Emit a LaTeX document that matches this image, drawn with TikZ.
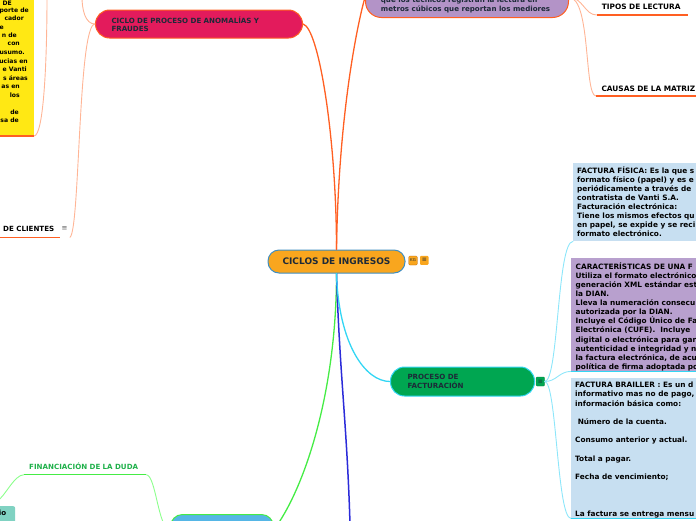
\documentclass[tikz,border=0pt]{standalone}
\usepackage{fontspec}
\setmainfont{DejaVu Sans}
\definecolor{orA}{HTML}{FF5F22}
\definecolor{orL}{HTML}{FFB596}
\definecolor{cenF}{HTML}{F9A61E}
\definecolor{cenB}{HTML}{3F8EC2}
\definecolor{crim}{HTML}{E31B5C}
\definecolor{lav}{HTML}{B393C7}
\definecolor{yel}{HTML}{FFE814}
\definecolor{grn}{HTML}{00A651}
\definecolor{cyn}{HTML}{33D6F4}
\definecolor{cynL}{HTML}{8DE6FA}
\definecolor{lblue}{HTML}{C7DFF1}
\definecolor{purp}{HTML}{B8A0CE}
\definecolor{navy}{HTML}{1D2A38}
\definecolor{grnM}{HTML}{45EC45}
\definecolor{grnL}{HTML}{8CFF8C}
\definecolor{grnT}{HTML}{1FB04A}
\definecolor{bluD}{HTML}{2B2BD9}
\definecolor{bnF}{HTML}{55B6E6}
\definecolor{tealF}{HTML}{80D2C2}
\begin{document}
\begin{tikzpicture}[x=1pt,y=-1pt,
  small/.style={font=\fontsize{7.1}{9.1}\selectfont\bfseries, inner sep=0pt},
  boxtext/.style={font=\fontsize{7.35}{9.1}\selectfont\bfseries, inner sep=0pt, align=left, anchor=north west, text=black},
  yfont/.style={font=\fontsize{6.1}{8.5}\selectfont\bfseries, inner sep=0pt, text=black},
  lab/.style={font=\fontsize{7.4}{9}\selectfont\bfseries, inner xsep=5pt, align=left, anchor=south west, text=black},
  br/.style={line width=1.3pt, line cap=round},
  ch/.style={line width=0.9pt, line cap=round},
  icon/.style={minimum width=8.5pt, minimum height=9pt, inner sep=0pt, rounded corners=1pt, font=\fontsize{6}{6}\selectfont, text=navy}
]
\useasboundingbox (0,0) rectangle (696,520);
\clip (0,0) rectangle (696,520);

% ---------- nodes ----------
\node[draw=cenB, fill=cenF, line width=1pt, rounded corners=11pt, minimum width=137pt, minimum height=23pt, inner sep=0pt, text=navy, font=\fontsize{9}{10}\selectfont\bfseries] (central) at (336.5,261.5) {CICLOS DE INGRESOS};
\node[icon, fill=cenF, draw=orange!70!black, line width=0.3pt, font=\fontsize{4}{4}\selectfont] (kg) at (413,260.5) {KG};
\node[icon, fill=cenF] (cmenu) at (424.3,260.3) {≡};

\node[draw=orA, fill=crim, line width=1pt, rounded corners=14pt, minimum height=28pt, text width=175pt, inner xsep=16pt, inner ysep=0pt, align=left, anchor=west, text=navy, font=\fontsize{7.1}{8}\selectfont\bfseries] (ciclo) at (95,24) {CICLO DE PROCESO DE ANOMALÍAS Y\\FRAUDES};

\node[draw=orA, fill=lav, line width=1pt, rounded corners=16pt, minimum width=203pt, minimum height=40pt, inner sep=0pt, anchor=north west] (purple) at (365,-23) {};
\node[boxtext, text=navy, font=\fontsize{7.1}{8.7}\selectfont\bfseries] (purptxt) at (380.7,-3.5) {\strut que los técnicos registran la lectura en\\metros cúbicos que reportan los mediores};

\node[draw=cyn, fill=grn, line width=1pt, rounded corners=14pt, minimum height=29pt, text width=110pt, inner xsep=17pt, inner ysep=0pt, align=left, anchor=west, text=navy, font=\fontsize{7.1}{9}\selectfont\bfseries] (proc) at (390,381.5) {PROCESO DE\\FACTURACIÓN};
\node[icon, fill=grn, draw=grn!80!black, line width=0.3pt] (procicon) at (540.3,381.5) {≡};

\node[fill=yel, minimum width=50pt, minimum height=150pt, inner sep=0pt, anchor=south east] (yellow) at (34,136) {};
\foreach \t/\xr/\yc [count=\i] in {DE/12/3, porte de/29/10.3, cador/24/18.7, e/4/27, n de/17/35, con/20/43.3, usumo./25/52, ucias en/28/61, e Vanti/27/69.3, s áreas/28/78, as en/20/86, los/20/95, de/19/112, sa de/19/120.7}
  \node[yfont, anchor=base east] (yl\i) at (\xr,\yc+2.2) {\t};

\node[fill=lblue, minimum width=130pt, minimum height=78pt, inner sep=0pt, anchor=north west] (fisica) at (573,163) {};
\node[boxtext] (fisicatxt) at (577,166.2) {\strut FACTURA FÍSICA: Es la que s\\formato físico (papel) y es e\\periódicamente a través de \\contratista de Vanti S.A.\\Facturación electrónica:\\Tiene los mismos efectos qu\\en papel, se expide y se reci\\formato electrónico.};

\node[fill=purp, minimum width=130pt, minimum height=113pt, inner sep=0pt, anchor=north west] (caract) at (571,258) {};
\node[boxtext] (caracttxt) at (575.5,262.2) {\strut CARACTERÍSTICAS DE UNA F\\Utiliza el formato electrónico\\generación XML estándar est\\la DIAN.\\Lleva la numeración consecu\\autorizada por la DIAN.\\Incluye el Código Único de Fa\\Electrónica (CUFE).~ Incluye\\digital o electrónica para gar\\autenticidad e integridad y n\\la factura electrónica, de acu\\política de firma adoptada po};

\node[fill=lblue, minimum width=130pt, minimum height=140pt, inner sep=0pt, anchor=north west] (brailler) at (571,378) {};
\node[boxtext, font=\fontsize{7.35}{9.2}\selectfont\bfseries] (braillertxt) at (575,381.1) {\strut FACTURA BRAILLER : Es un d\\informativo mas no de pago,\\información básica como:\\[9.2pt] ~Número de la cuenta.\\[9.2pt]Consumo anterior y actual.\\[9.2pt]Total a pagar.\\[9.2pt]Fecha de vencimiento;\\[27.6pt]La factura se entrega mensu};

\node[draw=grnM, fill=bnF, line width=1pt, rounded corners=12pt, minimum width=103pt, minimum height=30pt, inner sep=0pt, anchor=north west] (bnode) at (170,514) {};
\node[fill=tealF, rounded corners=2pt, minimum width=21pt, minimum height=24pt, inner sep=0pt, anchor=north west] (tealbox) at (-6,506) {};
\node[small, anchor=base east, text=black] (teallab) at (6.5,515.4) {io};

\node[lab, font=\fontsize{7.1}{9}\selectfont\bfseries, text=grnT, text width=111.7pt, inner ysep=5.1pt] (finan) at (24,474.7) {FINANCIACIÓN DE LA DUDA};
\node[lab, font=\fontsize{7.1}{9}\selectfont\bfseries, text width=62pt, inner ysep=5.7pt] (clientes) at (-2,237.3) {DE CLIENTES};
\node[small, text=gray!70!black, font=\fontsize{7}{7}\selectfont] (clmenu) at (64.5,229) {≡};
\node[lab, text width=81.3pt, inner ysep=5pt] (tipos) at (596.7,15) {TIPOS DE LECTURA};
\node[lab, text width=110pt, inner xsep=5.3pt, inner ysep=4.3pt] (causas) at (596,96) {CAUSAS DE LA MATRIZ I};

\coordinate (cup) at (82,-3);
\coordinate (yup) at (47,-3);
\coordinate (bdown) at (350,524);
\coordinate (finleft) at (-3,501);
\coordinate (clend) at (70,237.3);

% ---------- connectors ----------
\draw[br, orA] (central.north) .. controls +(0,-110) and +(16,4) .. (ciclo.east);
\draw[br, orA] (central.north) .. controls +(2,-140) and +(-6,20) .. (purple.west);
\draw[br, grnM] (central.south) .. controls +(0,120) and +(30,-40) .. (bnode.east);
\draw[line width=1.5pt, bluD] (central.south) .. controls +(3,100) and +(-3,-100) .. (bdown);
\draw[br, cyn] (central.south) .. controls +(2,70) and +(-25,0) .. (proc.west);

\draw[ch, orL] (ciclo.west) .. controls +(-10,0) and +(0,12) .. (cup);
\draw[ch, orL] (ciclo.west) .. controls (78,24) and (80,230) .. (clend);
\draw[ch, orL] (yellow.south east) .. controls +(10,0) and +(0,60) .. (yup);
\draw[ch, orL] (purple.east) .. controls +(14,0) and +(-12,0) .. (tipos.south west);
\draw[ch, orL] (purple.east) .. controls +(22,0) and +(-12,0) .. (causas.south west);

\draw[ch, cynL] (procicon.east) .. controls +(14,0) and +(-16,0) .. (fisica.south west);
\draw[ch, cynL] (procicon.east) .. controls +(12,0) and +(-12,0) .. (caract.south west);
\draw[ch, cynL] (procicon.east) .. controls +(12,0) and +(-14,0) .. (brailler.south west);

\draw[ch, grnL] (finan.south east) .. controls +(10,0) and +(-12,0) .. (bnode.west);
\draw[ch, grnL] (finan.south west) .. controls +(-10,0) and +(8,-4) .. (finleft);

% underlines
\draw[line width=1.3pt, orA] (yellow.south west) -- (yellow.south east);
\draw[line width=1.3pt, orA] (clientes.south west) -- ([xshift=-10pt]clientes.south east);
\draw[line width=1.3pt, orA] (tipos.south west) -- (tipos.south east);
\draw[line width=1.3pt, orA] (causas.south west) -- (causas.south east);
\draw[line width=1.3pt, grnM] (finan.south west) -- (finan.south east);
\draw[line width=1.2pt, cyn] (caract.south west) -- (caract.south east);
\draw[line width=1.2pt, cyn] (brailler.south west) -- (brailler.south east);
\end{tikzpicture}
\end{document}
